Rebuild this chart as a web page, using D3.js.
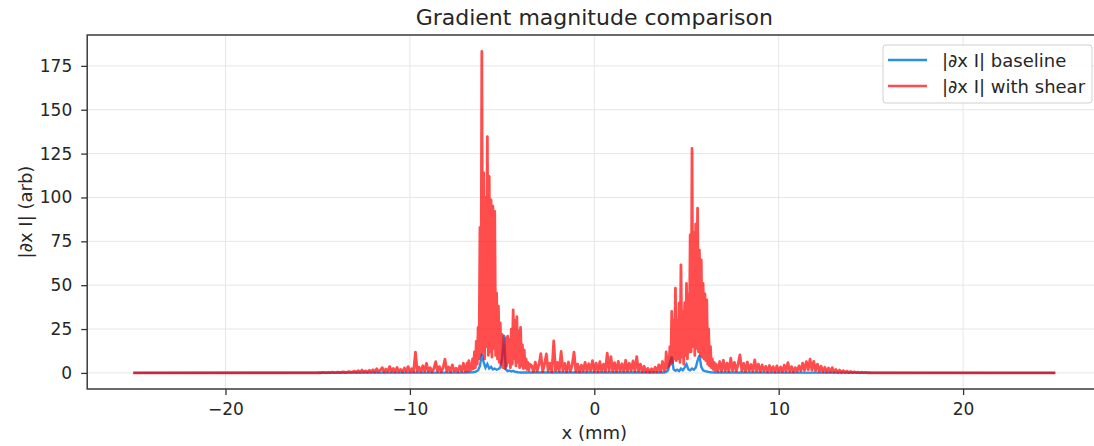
<!DOCTYPE html>
<html>
<head>
<meta charset="utf-8">
<script src="https://cdn.jsdelivr.net/npm/d3@7"></script>
<style>
  body { margin: 0; background: #fff; }
  text { font-family: "DejaVu Sans", sans-serif; fill: #262626; }
</style>
</head>
<body>
<div id="chart"></div>
<script>
// Sample positions are x (mm); each segment is [start, step, values]
const xTicks = [-20, -10, 0, 10, 20];
const yTicks = [0, 25, 50, 75, 100, 125, 150, 175];
const seriesNames = ["|∂x I| baseline", "|∂x I| with shear"];

// flat zero ends of both signals
const flatEnds = [-25, 25];

// |∂x I| with shear
const shearLeftNoise = [-15, 0.1, [
  0.1,0.2,0.1,0.3,0.2,0.1,0.3,0.2,0.4,0.2,
  0.3,0.5,0.2,0.4,0.6,0.3,0.5,0.8,0.4,0.6,
  1.0,0.4,1.3,0.5,1.6,0.6,1.2,0.5,1.5,0.6,
  1.8,0.5,2.4,0.7,1.6,3.0,0.6,2.2,0.8,3.6,
  0.8,2.6,0.6,3.1,0.9,2.0,0.6,2.8,0.8,3.6,
  0.7,2.4,0.6,11.8,0.9,3.2,0.7,4.1,0.9,5.4,
  0.8,3.0,0.6,2.5,6.4,0.8,3.6,0.7,2.9,7.8,
  0.9,3.4,0.6,4.6,1.0,2.7,0.7,4.0,0.9,5.5,
  0.8]];
const shearLeftPeak = [-6.95, 0.05, [
  1.0,5.5,1.2,7,1.5,5,2,8,2.5,12,
  3,18,5,26,8,83,10,183.2,12,114,
  8,100,15,134.7,10,112,12,98.6,9,95,
  14,92,10,45.6,8,38,6,28.5,5,22,
  3,15,2.5,20,4,21,6,19,3,25,
  5,35.9,8,30,4,32,6,24,3,26,
  4,16,2.5,13,3,8,2,6,1.5,5]];
const shearMiddle = [-3.4, 0.1, [
  4.2,0.8,6.1,1.0,4.8,11.0,0.7,5.0,10.8,1.1,
  5.6,0.6,18.2,1.2,6.0,0.9,12.2,1.1,5.4,0.7,
  6.2,1.0,4.6,11.8,0.8,5.0,0.6,4.4,1.1,6.0,
  0.9,5.2,1.2,7.0,0.8,5.6,0.7,6.4,1.0,5.0,
  0.8,11.2,1.1,9.3,0.9,5.8,0.7,6.6,1.0,5.2,
  0.8,7.2,1.0,5.5,1.2,6.8,0.9,9.3,1.0,5.0,
  0.7,3.8,0.6,2.6,0.5,2.4,0.6,3.2,0.7,4.6,
  0.8,6.5,1.2]];
const shearRightPeak = [3.85, 0.05, [
  2,12,3,9,4,15,5,35,6,30,
  8,48.3,7,30,8,39.7,6,61.6,9,35,
  5,40,10,51,8,45,12,78.7,12,128,
  15,80,10,85,14,93.9,12,70,10,64.4,
  9,51,8,45,7,41.6,5,25,4,15,
  3,8,2,6,1.5,5]];
const shearRightNoise = [6.7, 0.1, [
  1.0,6.5,0.9,7.2,1.2,5.6,0.9,8.4,1.3,6.0,
  1.0,5.2,10.3,1.1,5.4,0.8,6.2,1.2,4.8,0.9,
  7.4,1.0,5.0,0.8,4.6,1.1,3.8,0.7,4.2,0.9,
  3.6,0.6,4.0,0.8,3.4,0.7,4.4,0.9,5.9,0.8,
  3.6,0.6,3.0,0.9,4.0,1.2,5.6,1.5,6.4,1.8,
  7.8,1.6,6.6,1.3,5.0,0.9,3.8,0.7,3.2,0.6,
  2.8,0.5,3.0,0.4,2.0,0.4,1.6,0.3,1.3,0.3,
  1.0,0.2,0.8,0.2,0.6,0.2,0.5,0.1,0.4,0.1,
  0.3,0.1,0.2,0.1]];

// |∂x I| baseline, mostly hidden under the shear curve
const baseLeft = [-7.0, 0.1, [
  0.2,0.3,0.2,0.4,0.3,0.5,0.8,1.5,
  4.0,11.0,6.0,3.0,5.0,2.5,3.5,2.0,2.5,1.8,
  2.2,3.0,8.0,21.7,2.0,1.0,1.4,0.8,1.2,0.6,
  0.5,0.3,0.2]];
const baseRight = [3.8, 0.1, [
  0.2,0.5,1.5,6.0,9.3,2.0,1.2,1.8,1.0,2.5,
  1.5,3.0,5.0,2.0,1.5,2.5,1.8,3.0,7.0,10.0,
  3.5,1.5,1.0,0.8,0.6,0.4,0.3,0.2,0.2]];

const colors = ["#2b8fe6", "#ff0000"];

function toPoints(segs) {
  let pts = [[flatEnds[0], 0]];
  segs.forEach(([start, step, vals]) => {
    vals.forEach((v, i) => pts.push([start + i * step, v]));
  });
  pts.push([flatEnds[1], 0]);
  return pts;
}

const baseline = toPoints([baseLeft, baseRight]);
const shear = toPoints([shearLeftNoise, shearLeftPeak, shearMiddle, shearRightPeak, shearRightNoise]);

const W = 1094, H = 446;
const M = {top: 35, bottom: 57, left: 87.2};
const RIGHT = 1101.4; // right spine sits just outside the window

const svg = d3.select('#chart').append('svg')
  .attr('width', W).attr('height', H);

const x = d3.scaleLinear().domain([-27.5, 27.5]).range([M.left, RIGHT]);
const y = d3.scaleLinear().domain([-9.17, 192.6]).range([H - M.bottom, M.top]);

// grid
svg.append('g').selectAll('line').data(xTicks).join('line')
  .attr('x1', d => x(d)).attr('x2', d => x(d))
  .attr('y1', M.top).attr('y2', H - M.bottom)
  .attr('stroke', '#e6e6e6').attr('stroke-width', 1);
svg.append('g').selectAll('line').data(yTicks).join('line')
  .attr('x1', M.left).attr('x2', RIGHT)
  .attr('y1', d => y(d)).attr('y2', d => y(d))
  .attr('stroke', '#e6e6e6').attr('stroke-width', 1);

// lines
const line = d3.line().x(d => x(d[0])).y(d => y(d[1]));
svg.append('path').datum(baseline)
  .attr('d', line).attr('fill', 'none')
  .attr('stroke', colors[0]).attr('stroke-width', 2.4);
svg.append('path').datum(shear)
  .attr('d', line).attr('fill', 'none')
  .attr('stroke', colors[1]).attr('stroke-opacity', 0.7)
  .attr('stroke-width', 2.8).attr('stroke-linejoin', 'round');

// axes
const xAxis = svg.append('g')
  .attr('transform', `translate(0, ${H - M.bottom})`)
  .call(d3.axisBottom(x).tickValues(xTicks).tickSize(6).tickPadding(8).tickSizeOuter(0));
const yAxis = svg.append('g')
  .attr('transform', `translate(${M.left}, 0)`)
  .call(d3.axisLeft(y).tickValues(yTicks).tickSize(6).tickPadding(9).tickSizeOuter(0));
[xAxis, yAxis].forEach(g => {
  g.select('.domain').remove();
  g.selectAll('.tick line').attr('stroke', '#333').attr('stroke-width', 1.3);
  g.selectAll('.tick text').style('font-size', '17px').attr('fill', '#262626');
});

// spines
svg.append('rect')
  .attr('x', M.left).attr('y', M.top)
  .attr('width', RIGHT - M.left).attr('height', H - M.bottom - M.top)
  .attr('fill', 'none').attr('stroke', '#3a3a3a').attr('stroke-width', 1.5);

// titles
svg.append('text').attr('x', 594.3).attr('y', 25)
  .attr('text-anchor', 'middle').style('font-size', '22px')
  .text('Gradient magnitude comparison');
svg.append('text').attr('x', 594.3).attr('y', 439)
  .attr('text-anchor', 'middle').style('font-size', '18px')
  .text('x (mm)');
svg.append('text')
  .attr('transform', `translate(32, ${(M.top + H - M.bottom) / 2}) rotate(-90)`)
  .attr('text-anchor', 'middle').style('font-size', '18px')
  .text('|∂x I| (arb)');

// legend
const legend = svg.append('g');
legend.append('rect')
  .attr('x', 883).attr('y', 45).attr('width', 209).attr('height', 58).attr('rx', 3)
  .attr('fill', '#fff').attr('fill-opacity', 0.85)
  .attr('stroke', '#d0d0d0').attr('stroke-width', 1);
seriesNames.forEach((name, i) => {
  const ly = 60 + i * 26;
  legend.append('line')
    .attr('x1', 888).attr('x2', 927).attr('y1', ly).attr('y2', ly)
    .attr('stroke', colors[i]).attr('stroke-width', 2.4)
    .attr('stroke-opacity', i === 1 ? 0.7 : 1);
  legend.append('text')
    .attr('x', 942).attr('y', ly + 6.5)
    .style('font-size', '18px')
    .text(name);
});
</script>
</body>
</html>
